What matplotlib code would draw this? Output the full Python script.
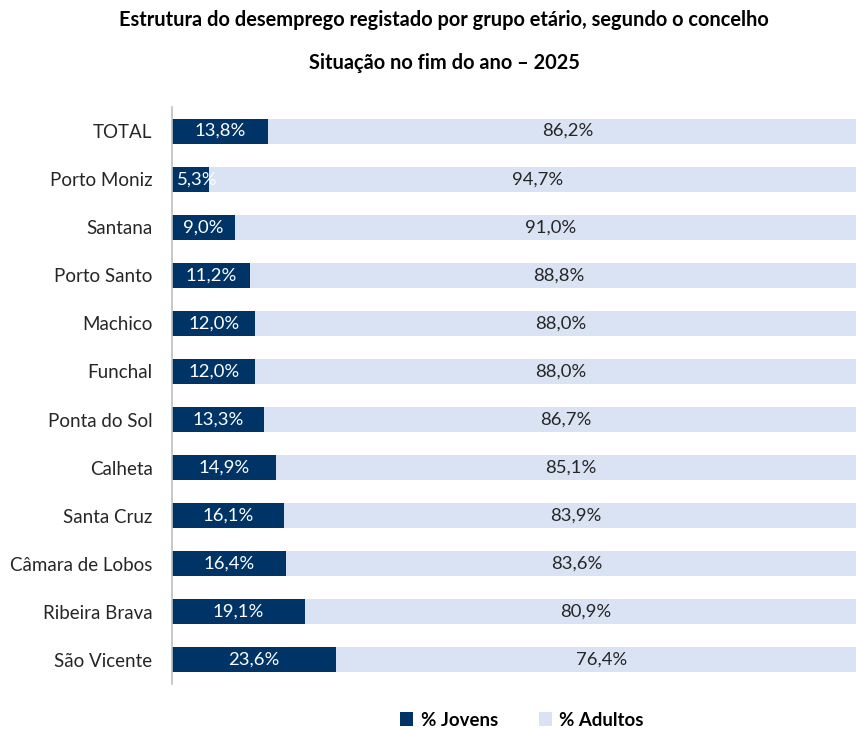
import matplotlib.pyplot as plt

# Estrutura do desemprego registado por grupo etário (fim do ano 2025)
concelhos = ["TOTAL", "Porto Moniz", "Santana", "Porto Santo", "Machico", "Funchal",
             "Ponta do Sol", "Calheta", "Santa Cruz", "Câmara de Lobos",
             "Ribeira Brava", "São Vicente"]
jovens = [13.8, 5.3, 9.0, 11.2, 12.0, 12.0, 13.3, 14.9, 16.1, 16.4, 19.1, 23.6]
adultos = [86.2, 94.7, 91.0, 88.8, 88.0, 88.0, 86.7, 85.1, 83.9, 83.6, 80.9, 76.4]

cor_jovens = "#003366"
cor_adultos = "#DAE3F3"

plt.rcParams['font.family'] = ['Lato', 'DejaVu Sans']

fig = plt.figure(figsize=(8.56, 7.29), dpi=100)
ax = fig.add_axes([172 / 856, 45 / 729, 695 / 856, 577 / 729])

pos = list(range(len(concelhos)))
b1 = ax.barh(pos, jovens, height=0.52, color=cor_jovens, label="% Jovens")
b2 = ax.barh(pos, adultos, left=jovens, height=0.52, color=cor_adultos, label="% Adultos")

fmt = lambda v: f"{v:.1f}%".replace(".", ",")
lbl_j = ax.bar_label(b1, labels=[fmt(v) for v in jovens], label_type='center',
                     color='white', fontsize=13.3)
ax.bar_label(b2, labels=[fmt(v) for v in adultos], label_type='center',
             color='#262626', fontsize=13.3)
# etiqueta que não cabe na barra pequena começa junto ao eixo (como no Excel)
for t, v in zip(lbl_j, jovens):
    if v < 7:
        t.set_ha('left')
        t.xy = (0, t.xy[1])
        t.xyann = (3.5, 0)

ax.set_xlim(0, 100)
ax.set_ylim(len(concelhos) - 0.5, -0.5)
ax.set_yticks(pos)
ax.set_yticklabels(concelhos, fontsize=13.5, color='#262626')
ax.tick_params(axis='y', length=0, pad=14)
ax.set_xticks([])
for s in ['top', 'right', 'bottom']:
    ax.spines[s].set_visible(False)
ax.spines['left'].set_color('#BFBFBF')
ax.spines['left'].set_linewidth(1.2)

fig.text(444 / 856, 1 - 20 / 729, "Estrutura do desemprego registado por grupo etário, segundo o concelho",
         ha='center', va='center', fontsize=14.4, fontweight='bold')
fig.text(444 / 856, 1 - 63 / 729, "Situação no fim do ano – 2025",
         ha='center', va='center', fontsize=14.4, fontweight='bold')

fig.legend(handles=[b1, b2], loc='center', bbox_to_anchor=(522 / 856, 1 - 720 / 729),
           ncol=2, frameon=False, handlelength=0.7, handleheight=0.7,
           columnspacing=2.2, handletextpad=0.4, prop={'weight': 'bold', 'size': 13.4})

fig.savefig("out.png", dpi=100)
